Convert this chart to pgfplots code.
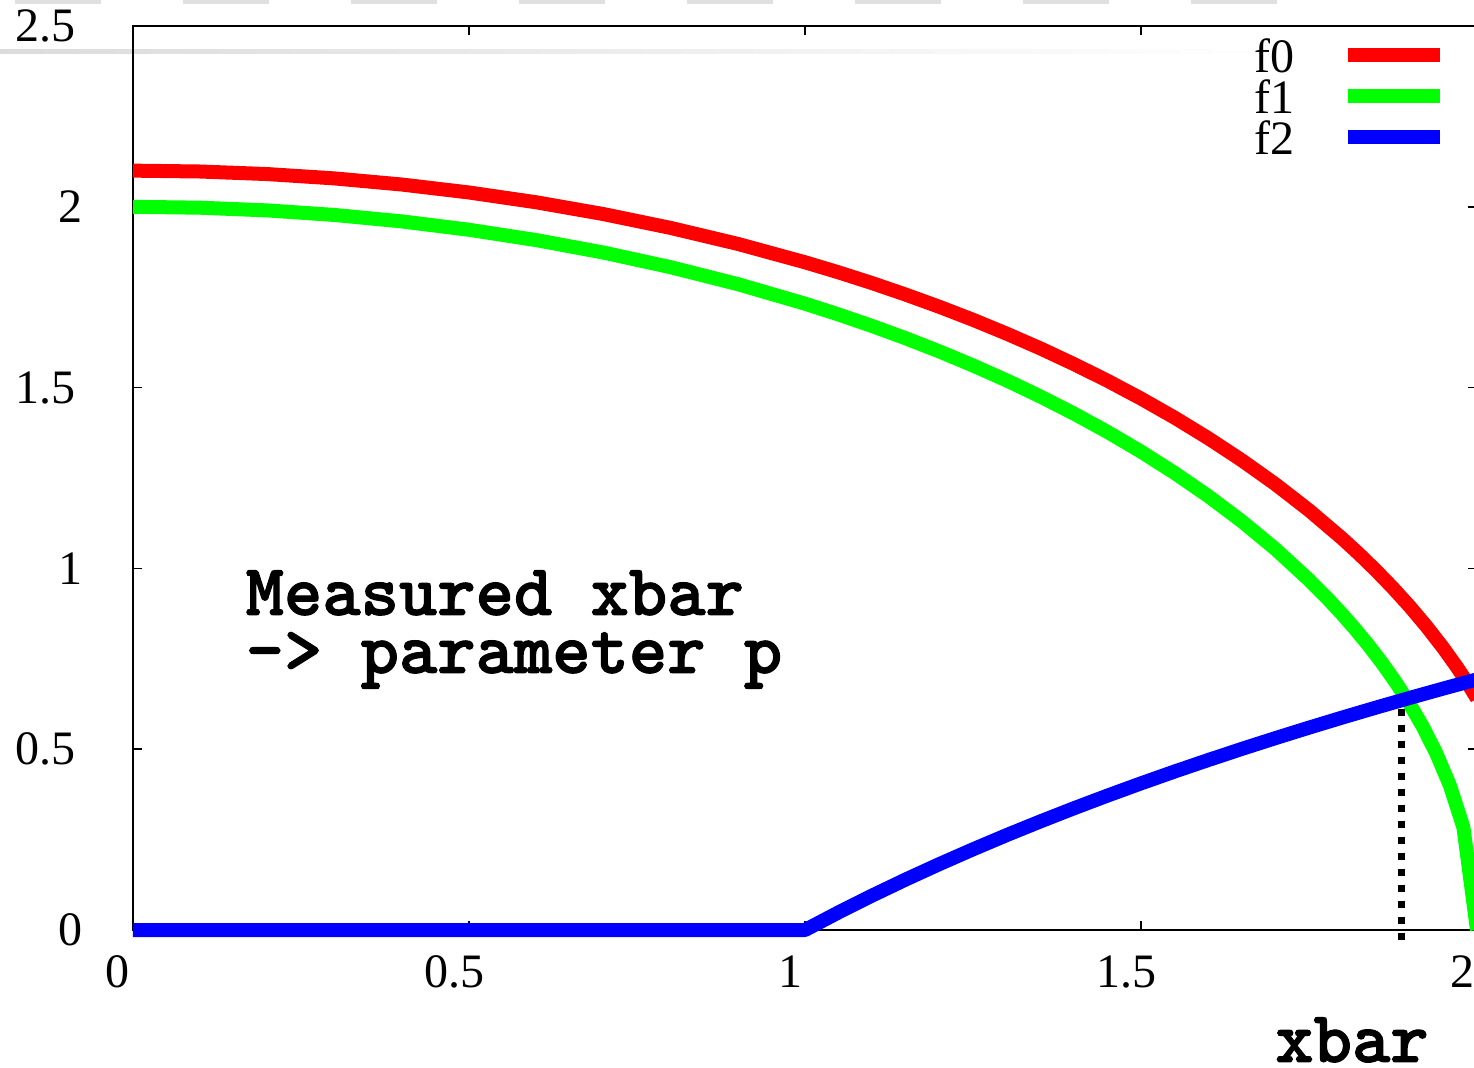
\documentclass[border=0pt]{standalone}
\usepackage{fontspec}
\setmainfont{Liberation Serif}
\newfontfamily\notefam{lmmonolt10-bold.otf}[FakeBold=1.4]
\usepackage{pgfplots}
\pgfplotsset{compat=1.18}

\definecolor{fzero}{RGB}{255,0,0}
\definecolor{fone}{RGB}{0,255,0}
\definecolor{ftwo}{RGB}{0,0,255}

\newcommand{\tickfont}{\fontsize{14.4}{17}\selectfont}
\newcommand{\notefont}{\fontsize{21.9}{17.4}\selectfont\notefam}

\begin{document}
\begin{tikzpicture}
\useasboundingbox (0pt,0pt) rectangle (442.2pt,-320.4pt);
% page banner strip behind the plot
\foreach \k in {0,...,7}
  \fill[black!12] ({4.5pt+50.4pt*\k},0pt) rectangle ({30.3pt+50.4pt*\k},-1.2pt);
\shade[left color=black!14, right color=white] (0pt,-15pt) rectangle (380pt,-16.2pt);

\begin{axis}[
  at={(39.9pt,-279pt)}, anchor=south west,
  scale only axis, width=403.2pt, height=271.2pt,
  xmin=0, xmax=2, ymin=0, ymax=2.5,
  clip=false,
  axis line style={line width=0.45pt, black},
  xtick={0,0.5,1,1.5,2},
  xticklabels={0,0.5,1,1.5,2},
  ytick={0,0.5,1,1.5,2,2.5},
  yticklabels={0,0.5\kern2.1pt,1,1.5\kern2.1pt,2,2.5\kern2.1pt},
  tick align=inside, major tick length=2.7pt,
  tick style={line width=0.45pt, black},
  /pgf/number format/assume math mode=true,
  ticklabel style={font=\tickfont, inner sep=0pt},
  xticklabel style={anchor=north, xshift=-4.5pt, yshift=-7.5pt},
  yticklabel style={anchor=east, xshift=-15pt},
  xlabel={xbar},
  xlabel style={at={(rel axis cs:0.907,-0.146)}, anchor=base, font=\notefont, inner sep=0pt},
  legend style={draw=none, fill=none, inner sep=0pt, outer sep=0pt,
    at={(0.8348,0.9867)}, anchor=north west, font=\tickfont,
    row sep=2.1pt, column sep=13.8pt,
    nodes={inner sep=0pt, text height=10.2pt, text depth=0pt}},
  legend cell align=left,
  legend plot pos=right,
  legend image code/.code={\draw[#1] (0pt,0pt) -- (27.6pt,0pt);},
]

% dotted guide from the f1/f2 crossing down to the axis
\addplot[forget plot, black, line width=2.1pt, dash pattern=on 2.1pt off 2.7pt]
  coordinates {(1.888,0.612) (1.888,-0.034)};

\addplot[fzero, line width=4.2pt, line join=round] coordinates {
 (0,2.1) (0.1,2.0976) (0.2,2.0905) (0.3,2.0785) (0.4,2.0616) (0.5,2.0396)
 (0.6,2.0125) (0.7,1.9799) (0.8,1.9416) (0.9,1.8974) (1.0,1.8466)
 (1.05,1.8187) (1.1,1.7889) (1.15,1.7571) (1.2,1.7234) (1.25,1.6875)
 (1.3,1.6492) (1.35,1.6086) (1.4,1.5652) (1.45,1.5191) (1.5,1.4697)
 (1.55,1.4169) (1.6,1.3601) (1.65,1.2990) (1.7,1.2329) (1.75,1.1608)
 (1.8,1.0817) (1.825,1.0389) (1.85,0.9937) (1.875,0.9457) (1.9,0.8944)
 (1.925,0.8393) (1.95,0.7794) (1.97,0.7274) (1.98,0.6997) (1.99,0.6707)
 (2.0,0.6403)
};
\addlegendentry{f0}

\addplot[fone, line width=4.2pt, line join=round] coordinates {
 (0,2.0) (0.1,1.9975) (0.2,1.9900) (0.3,1.9774) (0.4,1.9596) (0.5,1.9365)
 (0.6,1.9079) (0.7,1.8735) (0.8,1.8330) (0.9,1.7861) (1.0,1.7321)
 (1.05,1.7022) (1.1,1.6703) (1.15,1.6363) (1.2,1.6000) (1.25,1.5612)
 (1.3,1.5199) (1.35,1.4756) (1.4,1.4283) (1.45,1.3775) (1.5,1.3229)
 (1.55,1.2639) (1.6,1.2000) (1.65,1.1303) (1.7,1.0536) (1.75,0.9682)
 (1.7778,0.9162) (1.7980,0.8759) (1.8182,0.8332) (1.8384,0.7876)
 (1.8586,0.7387) (1.8788,0.6857) (1.8990,0.6275) (1.9192,0.5628)
 (1.9394,0.4886) (1.9596,0.4000) (1.9798,0.2836) (2.0,0)
};
\addlegendentry{f1}

\addplot[ftwo, line width=4.2pt, line join=round] coordinates {
 (0,0) (1.0,0) (1.05,0.0488) (1.1,0.0953) (1.15,0.1398) (1.2,0.1823)
 (1.25,0.2231) (1.3,0.2624) (1.35,0.3001) (1.4,0.3365) (1.45,0.3716)
 (1.5,0.4055) (1.55,0.4383) (1.6,0.4700) (1.65,0.5008) (1.7,0.5306)
 (1.75,0.5596) (1.8,0.5878) (1.85,0.6152) (1.9,0.6419) (1.95,0.6678)
 (2.0,0.6931)
};
\addlegendentry{f2}

% base anchor of a multi-line node sits on its last line
\node[anchor=base west, inner sep=0pt, align=left, font=\notefont]
  at (axis cs:0.1667,0.711) {Measured xbar\\-> parameter p};
\end{axis}
\end{tikzpicture}
\end{document}
